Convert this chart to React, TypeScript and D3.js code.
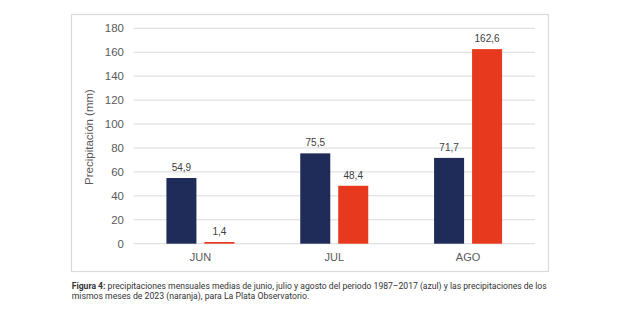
import React from "react";
import * as d3 from "d3";

const categories = ["JUN", "JUL", "AGO"];
const seriesKeys = ["media", "y2023"];
const mediaValues = [54.9, 75.5, 71.7];
const values2023 = [1.4, 48.4, 162.6];
const yTicks = [0, 20, 40, 60, 80, 100, 120, 140, 160, 180];
const yTitle = "Precipitación (mm)";
const captionBold = "Figura 4:";
const captionLine1 = " precipitaciones mensuales medias de junio, julio y agosto del periodo 1987–2017 (azul) y las precipitaciones de los";
const captionLine2 = "mismos meses de 2023 (naranja), para La Plata Observatorio.";

const W = 620;
const H = 325;
const plot = { left: 133.5, right: 535, top: 28.3, bottom: 243.7 };
const colors = ["#1f2b58", "#e7391e"];
const fontAx = "'Liberation Sans', Arial, sans-serif";

export default function App() {
  const x0 = d3.scaleBand<string>().domain(categories).range([plot.left, plot.right]).paddingInner(0).paddingOuter(0);
  const groupW = 68;
  const x1 = d3.scaleBand<string>().domain(seriesKeys).range([0, groupW]).paddingInner(0.21).paddingOuter(0);
  const y = d3.scaleLinear().domain([0, 180]).range([plot.bottom, plot.top]);
  const fmt = (v: number) => d3.format(".1f")(v).replace(".", ",");
  const series = [mediaValues, values2023];

  return (
    <div style={{ position: "absolute", left: 0, top: 0 }}>
      <svg width={W} height={H} style={{ display: "block", background: "#fff" }}>
        <rect x={71.5} y={14.5} width={477} height={257} fill="#fff" stroke="#d9d9d9" strokeWidth={1.2} />
        {yTicks.map((t) => (
          <g key={t}>
            <line x1={plot.left} x2={plot.right} y1={y(t)} y2={y(t)} stroke="#d9d9d9" strokeWidth={1} />
            <text x={124} y={y(t) + 4} textAnchor="end" fontFamily={fontAx} fontSize={11.5} fill="#595959">
              {t}
            </text>
          </g>
        ))}
        <text
          transform={`translate(93,137) rotate(-90)`}
          textAnchor="middle"
          fontFamily={fontAx}
          fontSize={11.5}
          fill="#595959"
        >
          {yTitle}
        </text>
        {categories.map((c, i) => {
          const gx = (x0(c) as number) + (x0.bandwidth() - groupW) / 2;
          return (
            <g key={c}>
              {seriesKeys.map((k, j) => {
                const v = series[j][i];
                const bx = gx + (x1(k) as number);
                const bw = x1.bandwidth();
                return (
                  <g key={k}>
                    <rect x={bx} y={y(v)} width={bw} height={plot.bottom - y(v)} fill={colors[j]} />
                    <text
                      x={bx + bw / 2}
                      y={y(v) - 7}
                      textAnchor="middle"
                      fontFamily={fontAx}
                      fontSize={10}
                      fill="#404040"
                    >
                      {fmt(v)}
                    </text>
                  </g>
                );
              })}
              <text
                x={(x0(c) as number) + x0.bandwidth() / 2}
                y={261}
                textAnchor="middle"
                fontFamily={fontAx}
                fontSize={11}
                fill="#595959"
              >
                {c}
              </text>
            </g>
          );
        })}
        <text x={71.7} y={288.5} fontFamily="Roboto, sans-serif" fontSize={9} fill="#333" textLength={475} lengthAdjust="spacingAndGlyphs">
          <tspan fontWeight="bold">{captionBold}</tspan>
          <tspan>{captionLine1}</tspan>
        </text>
        <text x={71.7} y={298.5} fontFamily="Roboto, sans-serif" fontSize={9} fill="#333" textLength={237.5} lengthAdjust="spacingAndGlyphs">
          {captionLine2}
        </text>
      </svg>
    </div>
  );
}
